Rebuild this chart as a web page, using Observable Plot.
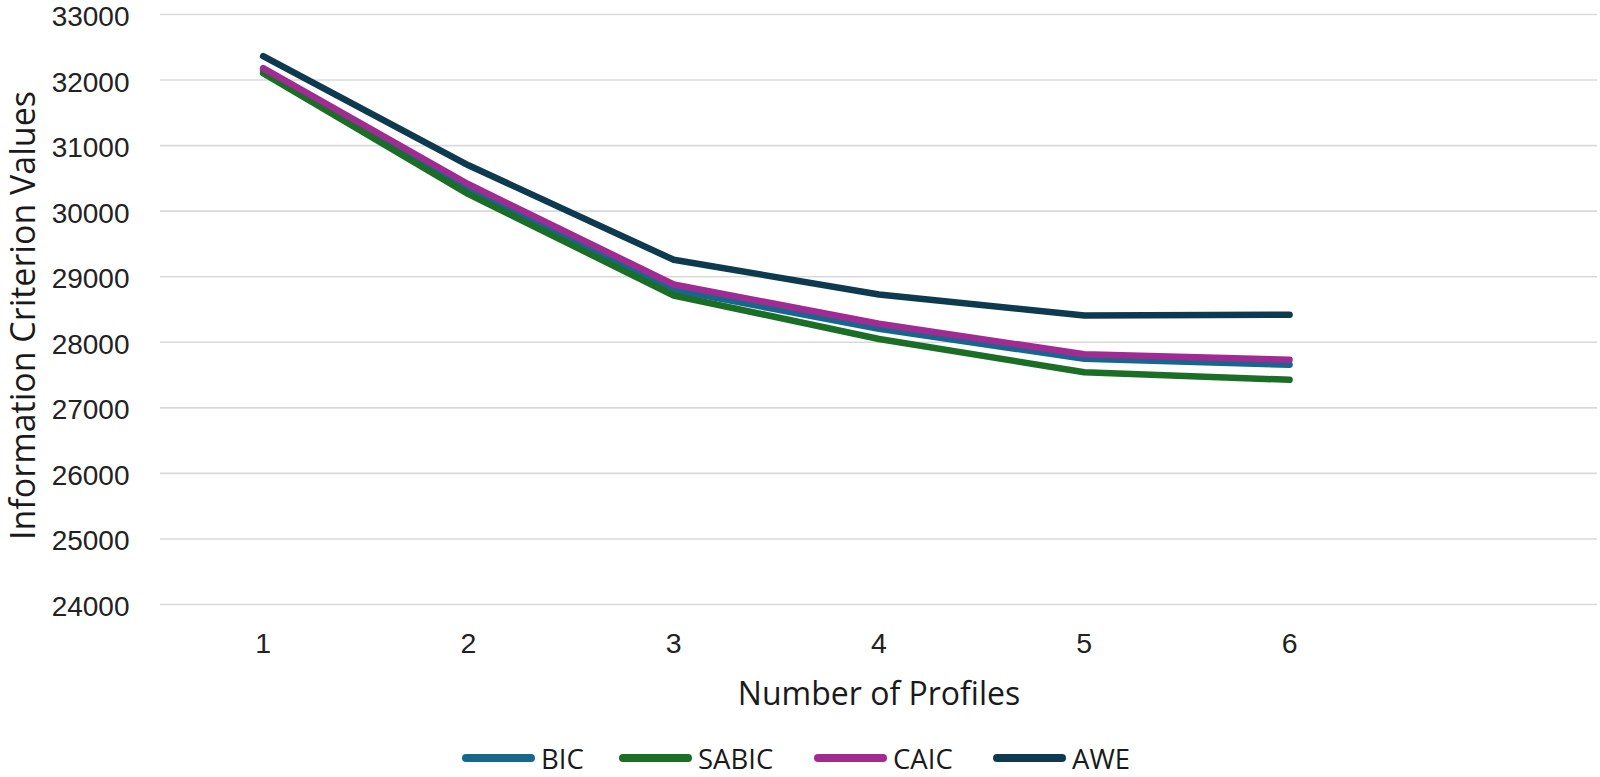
<!DOCTYPE html>
<html>
<head>
<meta charset="utf-8">
<script src="https://cdn.jsdelivr.net/npm/d3@7"></script>
<script src="https://cdn.jsdelivr.net/npm/@observablehq/plot@0.6"></script>
<style>
  html, body { margin: 0; padding: 0; background: #fff; overflow: hidden; }
  #legend { position: relative; height: 26px; margin-top: 10px;
            font-family: "Open Sans", Roboto, sans-serif; font-size: 27.5px; color: #1a1a1a; }
  .item { position: absolute; top: 0; height: 26px; display: flex; align-items: center; }
  .sw { width: 73px; height: 8px; border-radius: 4px; margin-right: 6px; }
</style>
</head>
<body>
<div id="chart"></div>
<div id="legend"></div>
<script>
const profiles = [1, 2, 3, 4, 5, 6];
const xTicks = [1, 2, 3, 4, 5, 6];
const yTicks = [24000, 25000, 26000, 27000, 28000, 29000, 30000, 31000, 32000, 33000];
const seriesNames = ["BIC", "SABIC", "CAIC", "AWE"];
const seriesColors = ["#17668e", "#1b6e26", "#a02b93", "#0d3a4f"];
const BIC   = [32150, 30340, 28800, 28205, 27748, 27657];
const SABIC = [32105, 30260, 28714, 28050, 27543, 27428];
const CAIC  = [32181, 30410, 28882, 28282, 27817, 27733];
const AWE   = [32364, 30700, 29258, 28729, 28409, 28420];
const seriesValues = [BIC, SABIC, CAIC, AWE];

const data = [];
seriesNames.forEach((name, i) => {
  profiles.forEach((p, j) => data.push({series: name, profiles: p, value: seriesValues[i][j]}));
});

const W = 1600, H = 735;
const titleFont = "'Open Sans', Roboto, sans-serif";
const chart = Plot.plot({
  width: W, height: H,
  marginTop: 14, marginBottom: 131, marginLeft: 160, marginRight: 3,
  style: { fontFamily: "'Liberation Sans', Arial, sans-serif", color: "#222", background: "#fff", overflow: "visible" },
  x: { type: "linear", domain: [0.5, 7.5] },
  y: { domain: [24000, 33000] },
  color: { domain: seriesNames, range: seriesColors },
  marks: [
    Plot.ruleY(yTicks, { stroke: "#d9d9d9", strokeWidth: 1.6 }),
    Plot.axisY({ ticks: yTicks, tickSize: 0, tickPadding: 31, fontSize: 28, dy: 2.5, label: null, tickFormat: d => String(d) }),
    Plot.axisX({ ticks: xTicks, tickSize: 0, tickPadding: 28, fontSize: 28.5, label: null, tickFormat: d => String(d) }),
    Plot.line(data, { x: "profiles", y: "value", z: "series", stroke: "series",
      strokeWidth: 6.5, strokeLinecap: "round", strokeLinejoin: "round" }),
    Plot.text(["Number of Profiles"], { frameAnchor: "bottom", dy: 90, lineAnchor: "middle", textAnchor: "middle",
      fontSize: 32, fontFamily: titleFont, fill: "#1a1a1a" }),
    Plot.text(["Information Criterion Values"], { frameAnchor: "left", dx: -136, dy: 6, rotate: -90,
      lineAnchor: "middle", textAnchor: "middle", fontSize: 34, fontFamily: titleFont, fill: "#1a1a1a" })
  ]
});
document.getElementById("chart").appendChild(chart);

const legendLefts = [462, 619, 814, 993];
const legend = document.getElementById("legend");
seriesNames.forEach((name, i) => {
  const item = document.createElement("div");
  item.className = "item";
  item.style.left = legendLefts[i] + "px";
  const sw = document.createElement("div");
  sw.className = "sw";
  sw.style.background = seriesColors[i];
  const t = document.createElement("span");
  t.textContent = name;
  item.appendChild(sw);
  item.appendChild(t);
  legend.appendChild(item);
});
</script>
</body>
</html>
